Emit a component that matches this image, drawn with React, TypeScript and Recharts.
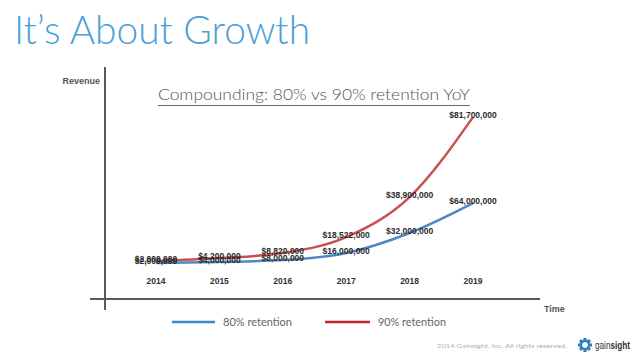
import React from 'react';
import { LineChart, Line, XAxis, YAxis, LabelList } from 'recharts';

// Categories
const years = ['2014', '2015', '2016', '2017', '2018', '2019'];
// Plotted heights (in $M, as drawn in the picture)
const retention80 = [3.7, 4.3, 5.3, 9.1, 19.8, 35.8];
const retention90 = [4.8, 6.4, 9.1, 17.6, 39.0, 81.8];
// Point labels as printed
const labels80 = ['$2,000,000', '$4,000,000', '$8,000,000', '$16,000,000', '$32,000,000', '$64,000,000'];
const labels90 = ['$2,000,000', '$4,200,000', '$8,820,000', '$18,522,000', '$38,900,000', '$81,700,000'];
const seriesNames = ['80% retention', '90% retention'];

const BLUE = '#4f87c4';
const RED = '#c9504f';
const LEG_BLUE = '#3b8cc4';
const LEG_RED = '#c0282d';

const data = years.map((y, i) => ({
  year: y,
  r80: retention80[i],
  r90: retention90[i],
  l80: labels80[i],
  l90: labels90[i],
}));

const ValueLabel = (props: any) => {
  const { x, y, value } = props;
  return (
    <text
      x={x}
      y={y - 2}
      textAnchor="middle"
      dominantBaseline="central"
      fontFamily="'Liberation Sans', Arial, sans-serif"
      fontWeight="bold"
      fontSize={8.5}
      fill="#2b2b2b"
    >
      {value}
    </text>
  );
};

const YearTick = (props: any) => {
  const { x, y, payload } = props;
  return (
    <text
      x={x}
      y={y - 26}
      textAnchor="middle"
      dominantBaseline="central"
      fontFamily="'Liberation Sans', Arial, sans-serif"
      fontWeight="bold"
      fontSize={8.5}
      fill="#333"
    >
      {payload.value}
    </text>
  );
};

export default function App() {
  return (
    <div style={{ position: 'fixed', left: 0, top: 0, width: 638, height: 359, background: '#fff', overflow: 'hidden' }}>
      <LineChart
        width={638}
        height={359}
        data={data}
        margin={{ top: 67, right: 98, bottom: 30, left: 104 }}
      >
        <XAxis
          dataKey="year"
          height={30}
          padding={{ left: 51, right: 67 }}
          axisLine={{ stroke: '#5a5a5a', strokeWidth: 2 }}
          tickLine={false}
          tick={<YearTick />}
          interval={0}
        />
        <YAxis
          width={1}
          domain={[-15.5, 108.6]}
          allowDataOverflow
          axisLine={{ stroke: '#5a5a5a', strokeWidth: 2 }}
          tickLine={false}
          tick={false}
        />
        <Line
          type="monotone"
          dataKey="r80"
          name={seriesNames[0]}
          stroke={BLUE}
          strokeWidth={2.5}
          dot={false}
          isAnimationActive={false}
        >
          <LabelList dataKey="l80" content={<ValueLabel />} />
        </Line>
        <Line
          type="monotone"
          dataKey="r90"
          name={seriesNames[1]}
          stroke={RED}
          strokeWidth={2.5}
          dot={false}
          isAnimationActive={false}
        >
          <LabelList dataKey="l90" content={<ValueLabel />} />
        </Line>
      </LineChart>
      <svg
        width={638}
        height={359}
        style={{ position: 'absolute', left: 0, top: 0, pointerEvents: 'none' }}
      >
        <text x={14} y={44} fontFamily="Lato, 'Noto Sans', sans-serif" fontWeight={300} fontSize={39} fill="#48a0d6" textLength={296} lengthAdjust="spacingAndGlyphs">
          It’s About Growth
        </text>
        <text x={158} y={100} fontFamily="Lato, 'Noto Sans', sans-serif" fontWeight={300} fontSize={15} fill="#555" textLength={312} lengthAdjust="spacingAndGlyphs">
          Compounding: 80% vs 90% retention YoY
        </text>
        <line x1={158} x2={470} y1={105.5} y2={105.5} stroke="#6a6a6a" strokeWidth={1} />
        <text x={100} y={84} textAnchor="end" fontFamily="'Liberation Sans', Arial, sans-serif" fontWeight="bold" fontSize={9} fill="#555">
          Revenue
        </text>
        <text x={544} y={312} fontFamily="'Liberation Sans', Arial, sans-serif" fontWeight="bold" fontSize={9} fill="#555">
          Time
        </text>
        {/* axis overhangs */}
        <line x1={90} x2={105} y1={299} y2={299} stroke="#5a5a5a" strokeWidth={2} />
        <line x1={105} x2={105} y1={299} y2={310} stroke="#5a5a5a" strokeWidth={2} />
        {/* legend */}
        <line x1={172} x2={215} y1={322} y2={322} stroke={LEG_BLUE} strokeWidth={2.5} />
        <text x={223} y={325.5} fontFamily="Lato, 'Noto Sans', sans-serif" fontSize={10.5} fill="#666" textLength={69} lengthAdjust="spacingAndGlyphs">
          {seriesNames[0]}
        </text>
        <line x1={325} x2={370} y1={322} y2={322} stroke={LEG_RED} strokeWidth={2.5} />
        <text x={378} y={325.5} fontFamily="Lato, 'Noto Sans', sans-serif" fontSize={10.5} fill="#666" textLength={68} lengthAdjust="spacingAndGlyphs">
          {seriesNames[1]}
        </text>
        {/* footer */}
        <text x={437} y={347.5} fontFamily="Lato, 'Noto Sans', sans-serif" fontSize={6.5} fill="#b0b0b0" textLength={130} lengthAdjust="spacingAndGlyphs">
          2014 Gainsight, Inc. All rights reserved.
        </text>
        <g transform="translate(585,345)">
          {[0, 45, 90, 135, 180, 225, 270, 315].map((a) => (
            <rect key={a} x={-1.6} y={-7} width={3.2} height={4} fill="#2f7fc0" transform={`rotate(${a})`} />
          ))}
          <circle r={4} fill="none" stroke="#2f7fc0" strokeWidth={2.2} />
        </g>
        <text x={595} y={348.5} fontFamily="'Liberation Sans', Arial, sans-serif" fontSize={10} fill="#333" textLength={35} lengthAdjust="spacingAndGlyphs">
          gain<tspan fontWeight="bold">sight</tspan>
        </text>
      </svg>
    </div>
  );
}
